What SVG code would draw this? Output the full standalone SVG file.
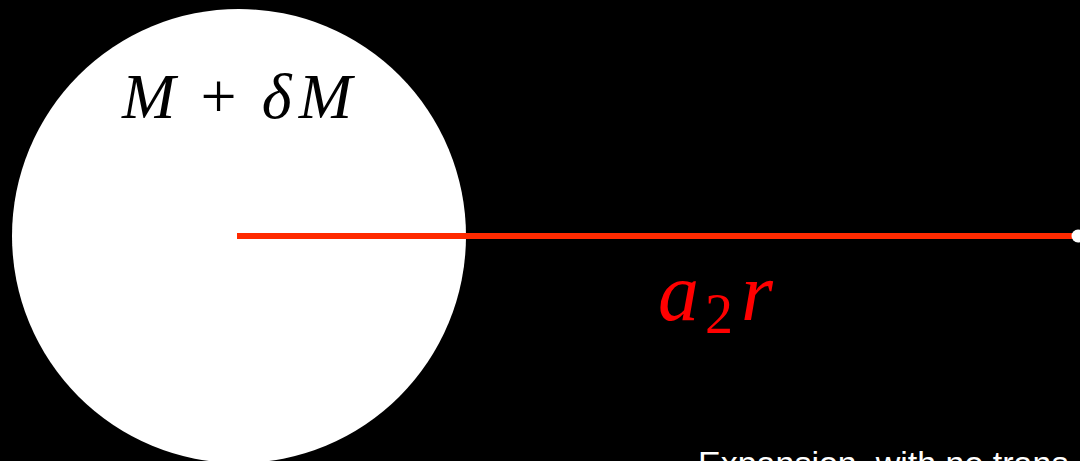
<svg xmlns="http://www.w3.org/2000/svg" width="1080" height="461" viewBox="0 0 1080 461">
<style>
.math{font-family:"Liberation Serif","DejaVu Serif",serif;font-style:italic}
.up{font-style:normal}
.cap{font-family:"Liberation Sans",Arial,sans-serif;font-size:34px;fill:#ffffff}
</style>
<rect width="1080" height="461" fill="#000"/>
<g id="mass">
<circle cx="239" cy="236" r="227" fill="#fff"/>
<text class="math" x="122" y="118" font-size="64" fill="#000" textLength="230" lengthAdjust="spacing">M<tspan class="up" dx="18">+</tspan><tspan dx="18">δM</tspan></text>
</g>
<g id="connectors">
<line x1="237" y1="236" x2="1074" y2="236" stroke="#ff2a00" stroke-width="6"/>
</g>
<g id="point">
<circle cx="1078" cy="236" r="6.5" fill="#fff"/>
</g>
<g id="label">
<text class="math" x="658" y="320" font-size="82" fill="#ff0000">a<tspan font-size="56" dy="13" dx="6" class="up">2</tspan><tspan dy="-13" dx="8">r</tspan></text>
</g>
<text class="cap" x="698" y="475">Expansion, with no trans</text>
</svg>
